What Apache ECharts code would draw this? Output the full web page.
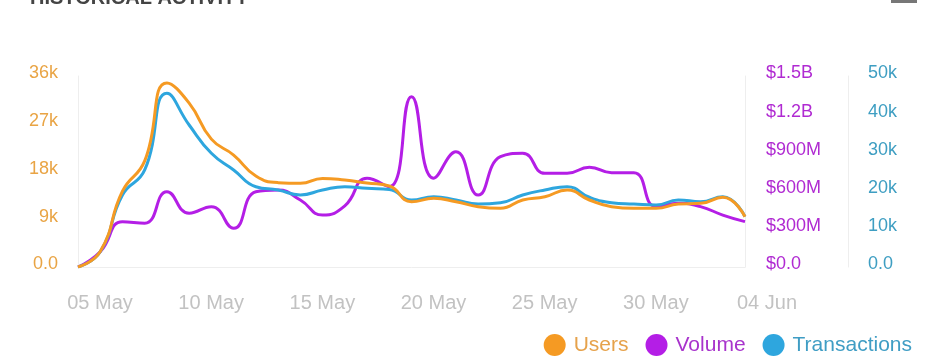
<!DOCTYPE html>
<html>
<head>
<meta charset="utf-8">
<script src="https://cdn.jsdelivr.net/npm/echarts@6/dist/echarts.min.js"></script>
<style>
html,body{margin:0;padding:0;background:#fff;}
#chart{width:943px;height:358px;}
</style>
</head>
<body>
<div id="chart"></div>
<script>
const categories = ['05 May','06 May','07 May','08 May','09 May','10 May','11 May','12 May','13 May','14 May','15 May','16 May','17 May','18 May','19 May','20 May','21 May','22 May','23 May','24 May','25 May','26 May','27 May','28 May','29 May','30 May','31 May','01 Jun','02 Jun','03 Jun','04 Jun'];
const users = [0,2900,14300,20000,34700,30900,24100,21100,17150,15900,15780,16700,16400,15830,15270,12300,12950,12300,11370,11060,12630,13250,14510,12630,11370,11060,11060,11870,12000,13140,9480];
const volume = [0,120e6,356e6,343e6,591e6,422e6,474e6,304e6,591e6,605e6,526e6,408e6,480e6,697e6,631e6,1337e6,697e6,905e6,565e6,866e6,893e6,736e6,736e6,783e6,741e6,741e6,474e6,500e6,474e6,408e6,356e6];
const transactions = [0,4000,18850,25400,45470,37170,29760,25400,21020,20160,18850,20160,21020,20600,20300,17540,18400,17540,16490,16830,18850,20160,21020,18250,16830,16490,16230,17540,17090,18400,13170];
const usersTicks = ['0.0','9k','18k','27k','36k'];
const volumeTicks = ['$0.0','$300M','$600M','$900M','$1.2B','$1.5B'];
const txTicks = ['0.0','10k','20k','30k','40k','50k'];

const FONT = 'Liberation Sans, Arial, Helvetica, sans-serif';
const C_USERS = '#F59A23', C_VOL = '#B41EE6', C_TX = '#2EA6DE';

const chart = echarts.init(document.getElementById('chart'), null, {renderer:'canvas'});
const yLabel = (color, ticks, step) => ({
  color: color, fontSize: 18, fontFamily: FONT, margin: 20,
  formatter: v => '{a|' + ticks[Math.round(v/step)] + '}',
  rich: {a: {color: color, fontSize: 18, fontFamily: FONT, padding: [0,0,5,0]}}
});
chart.setOption({
  animation: false,
  backgroundColor: '#fff',
  title: {
    text: 'HISTORICAL ACTIVITY', left: 25, top: -17,
    textStyle: {fontSize: 20, fontWeight: 'bold', color: '#444', fontFamily: FONT}
  },
  graphic: [{type:'rect', shape:{x:891,y:0,width:26,height:3}, style:{fill:'#777'}}],
  grid: {left: 78, right: 198, top: 76, bottom: 91},
  legend: {
    right: 26, top: 329, icon: 'circle', itemWidth: 22, itemHeight: 22, itemGap: 17,
    textStyle: {fontSize: 21, fontFamily: FONT, padding: [0,0,0,3]},
    data: [
      {name:'Users', textStyle:{color:'#E6A24B'}},
      {name:'Volume', textStyle:{color:'#A833CC'}},
      {name:'Transactions', textStyle:{color:'#3F9DC4'}}
    ]
  },
  xAxis: {
    type: 'category', data: categories, boundaryGap: false,
    axisLine: {show: true, lineStyle: {color: '#eee'}},
    axisTick: {show: false},
    axisLabel: {interval: 4, color: '#c2c2c2', fontSize: 20, fontFamily: FONT, margin: 26, padding: [0,0,0,44]}
  },
  yAxis: [
    {type:'value', position:'left', min:0, max:36000, interval:9000,
     axisLine:{show:true, lineStyle:{color:'#eee'}}, axisTick:{show:false}, splitLine:{show:false},
     axisLabel: yLabel('#E9A444', usersTicks, 9000)},
    {type:'value', position:'right', min:0, max:1.5e9, interval:3e8,
     axisLine:{show:true, lineStyle:{color:'#eee'}}, axisTick:{show:false}, splitLine:{show:false},
     axisLabel: Object.assign(yLabel('#B02AD2', volumeTicks, 3e8), {margin: 21})},
    {type:'value', position:'right', offset:103, min:0, max:50000, interval:10000,
     axisLine:{show:true, lineStyle:{color:'#eee'}}, axisTick:{show:false}, splitLine:{show:false},
     axisLabel: yLabel('#3E9EC2', txTicks, 10000)}
  ],
  series: [
    {name:'Volume', type:'line', yAxisIndex:1, data: volume, smooth: true, showSymbol:false,
     lineStyle:{width:3, color:C_VOL}, itemStyle:{color:C_VOL}},
    {name:'Transactions', type:'line', yAxisIndex:2, data: transactions, smooth: true, showSymbol:false,
     lineStyle:{width:3, color:C_TX}, itemStyle:{color:C_TX}},
    {name:'Users', type:'line', yAxisIndex:0, data: users, smooth: true, showSymbol:false,
     lineStyle:{width:3, color:C_USERS}, itemStyle:{color:C_USERS}}
  ]
});
</script>
</body>
</html>
